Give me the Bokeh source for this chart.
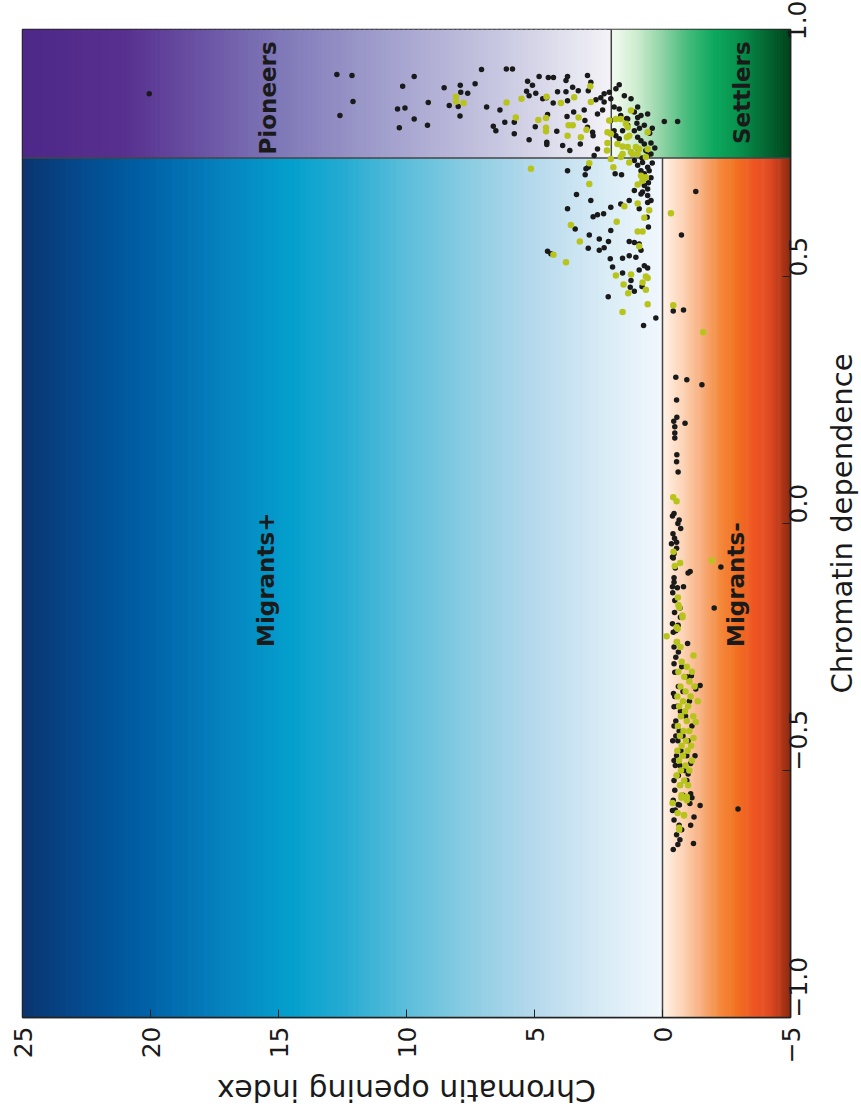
import math
import numpy as np
from bokeh.plotting import figure
from bokeh.layouts import row, column
from bokeh.models import Range1d, FixedTicker, ColumnDataSource
from bokeh.core.properties import value
from bokeh.embed import file_html
from bokeh.resources import INLINE

# ---------------- data (dependence, opening index) ----------------
black_points = [
    (0.905, 9.70), (0.885, 10.15), (0.839, 10.35), (0.841, 10.06), (0.819, 9.70), (0.801, 10.28),
    (0.806, 9.18), (0.852, 9.15), (0.882, 8.53), (0.846, 8.33), (0.844, 7.98), (0.887, 7.90),
    (0.873, 7.88), (0.871, 7.61), (0.825, 7.91), (0.890, 7.32), (0.919, 7.07), (0.843, 6.87),
    (0.804, 6.61), (0.795, 6.51), (0.837, 6.35), (0.812, 6.16), (0.920, 6.10), (0.920, 5.86),
    (0.812, 5.79), (0.789, 5.79), (0.895, 5.27), (0.887, 5.08), (0.875, 5.31), (0.866, 5.21),
    (0.871, 4.95), (0.905, 4.82), (0.860, 4.68), (0.803, 4.97), (0.777, 5.21), (0.862, 4.53),
    (0.828, 4.49), (0.772, 4.52), (0.767, 4.52), (0.903, 4.46), (0.903, 4.26), (0.851, 4.27),
    (0.794, 4.13), (0.874, 4.10), (0.765, 3.90), (0.897, 3.77), (0.905, 3.71), (0.874, 3.77),
    (0.824, 3.73), (0.856, 3.71), (0.755, 3.62), (0.883, 3.51), (0.833, 3.47), (0.876, 3.29),
    (0.768, 3.21), (0.907, 2.93), (0.876, 2.90), (0.893, 2.80), (0.837, 3.06), (0.816, 3.03),
    (0.802, 2.93), (0.792, 2.73), (0.785, 2.71), (0.745, 2.67), (0.758, 2.54), (0.858, 2.60),
    (0.862, 2.41), (0.829, 2.54), (0.837, 2.34), (0.853, 2.28), (0.870, 2.28), (0.873, 2.08),
    (0.860, 2.02), (0.816, 2.02), (0.843, 1.89), (0.880, 1.82), (0.888, 1.69), (0.839, 1.69),
    (0.826, 1.63), (0.866, 1.49), (0.819, 1.36), (0.860, 1.23), (0.833, 1.10), (0.843, 0.97),
    (0.822, 0.97), (0.826, 0.84), (0.806, 0.71), (0.829, 0.58), (0.814, -0.07), (0.814, -0.59),
    (0.795, 1.89), (0.785, 1.82), (0.779, 1.69), (0.795, 1.56), (0.806, 1.36), (0.785, 1.30),
    (0.795, 1.10), (0.782, 0.97), (0.775, 0.84), (0.768, 0.71), (0.755, 0.65), (0.745, 0.58),
    (0.748, 0.45), (0.735, 1.10), (0.725, 0.97), (0.731, 0.78), (0.721, 0.58), (0.714, 0.52),
    (0.714, 0.84), (0.708, 0.71), (0.708, 1.85), (0.706, 1.60), (0.694, 0.78), (0.684, 0.71),
    (0.677, 0.58), (0.671, 0.78), (0.664, 0.58), (0.654, 0.45), (0.674, 1.10), (0.667, 0.84),
    (0.654, 1.30), (0.647, 1.63), (0.640, 2.02), (0.637, 0.91), (0.650, 0.58), (0.718, 2.99),
    (0.721, 2.90), (0.706, 3.02), (0.714, 3.71), (0.666, 3.36), (0.654, 2.80), (0.637, 3.71),
    (0.621, 2.71), (0.625, 2.54), (0.627, 2.30), (0.593, 2.02), (0.596, 3.41), (0.584, 2.86),
    (0.576, 2.47), (0.571, 2.11), (0.557, 2.90), (0.553, 2.47), (0.558, 2.28), (0.571, 1.30),
    (0.569, 1.10), (0.566, 0.91), (0.553, 0.84), (0.542, 1.30), (0.539, 1.04), (0.537, 1.56),
    (0.536, 2.04), (0.519, 1.95), (0.507, 1.56), (0.492, 1.23), (0.513, 0.91), (0.522, 0.71),
    (0.517, 0.58), (0.478, 1.26), (0.470, 1.10), (0.480, 0.80), (0.459, 2.12), (0.430, -0.42),
    (0.432, -0.82), (0.416, 0.26), (0.551, 4.49), (0.546, 4.36), (0.672, -1.30), (0.584, -0.74),
    (0.401, 0.74), (0.870, 20.05), (0.909, 12.72), (0.907, 12.13), (0.826, 12.60), (0.854, 12.09),
    (0.800, 0.40), (0.790, 0.50), (0.770, 0.45), (0.760, 0.30), (0.810, 1.00), (0.820, 1.40),
    (0.800, 0.90), (0.760, 1.00), (0.740, 0.80), (0.730, 0.40), (0.700, 0.45), (0.690, 0.55),
    (0.620, 0.60), (0.600, 0.55),
    # band near zero opening
    (0.296, -0.52), (0.291, -0.95), (0.281, -1.54), (0.250, -0.55), (0.215, -0.56), (0.207, -0.44),
    (0.203, -0.88), (0.196, -0.48), (0.183, -0.48), (0.173, -0.48), (0.139, -0.56), (0.125, -0.55),
    (0.104, -0.61), (0.015, -0.39), (0.007, -0.65), (-0.010, -0.71), (-0.021, -0.41), (-0.038, -0.55),
    (-0.041, -0.35), (-0.061, -0.45), (-0.068, -0.39), (-0.097, -1.08), (-0.100, -1.00), (-0.119, -0.45),
    (-0.128, -0.39), (-0.128, -0.82), (-0.156, -0.48), (-0.171, -0.68), (-0.203, -0.39), (-0.206, -0.61),
    (-0.217, -0.52), (-0.243, -0.98), (-0.250, -0.45), (-0.271, -0.52), (-0.284, -0.45), (-0.308, -1.13),
    (-0.301, -0.48), (-0.328, -1.47), (-0.335, -1.30), (-0.344, -0.43), (-0.371, -0.45), (-0.410, -0.45),
    (-0.430, -0.52), (-0.440, -0.40), (-0.470, -1.27), (-0.486, -1.10), (-0.480, -0.45), (-0.490, -0.50),
    (-0.510, -0.55), (-0.520, -0.45), (-0.507, -1.00), (-0.547, -1.10), (-0.555, -1.15), (-0.569, -0.61),
    (-0.567, -1.07), (-0.571, -1.47), (-0.578, -2.95), (-0.581, -0.39), (-0.594, -1.23), (-0.611, -0.65),
    (-0.611, -1.10), (-0.640, -0.68), (-0.648, -1.21), (-0.088, -2.28), (-0.171, -2.02),
    (-0.29, -0.75), (-0.30, -0.58), (-0.31, -0.95), (-0.33, -0.62), (-0.34, -0.80), (-0.35, -0.48),
    (-0.36, -1.05), (-0.37, -0.58), (-0.38, -0.70), (-0.39, -0.90), (-0.40, -0.52), (-0.41, -1.15),
    (-0.42, -0.65), (-0.43, -0.80), (-0.44, -0.60), (-0.44, -1.00), (-0.46, -0.72), (-0.47, -0.55),
    (-0.47, -0.95), (-0.49, -0.68), (-0.50, -0.85), (-0.51, -0.62), (-0.52, -0.95), (-0.53, -0.70),
    (-0.54, -0.48), (-0.55, -0.80), (-0.56, -0.42), (-0.57, -0.66), (-0.58, -0.50), (-0.60, -0.45),
    (-0.62, -0.75), (-0.63, -0.55), (-0.65, -0.60), (-0.66, -0.42), (-0.26, -0.62), (-0.24, -0.58),
    (-0.22, -0.42), (-0.19, -0.70), (-0.18, -0.47), (-0.14, -0.40), (-0.13, -0.58), (-0.11, -0.45),
    (-0.09, -0.50), (-0.07, -0.42), (-0.05, -0.55), (-0.03, -0.47), (0.00, -0.60), (0.02, -0.45),
]

olive_points = [
    (0.885, 2.82), (0.853, 2.80), (0.863, 3.45), (0.851, 3.97), (0.864, 4.53), (0.860, 5.51),
    (0.852, 6.09), (0.864, 8.07), (0.854, 8.06), (0.851, 7.77), (0.822, 5.73), (0.817, 4.85),
    (0.821, 4.55), (0.801, 4.55), (0.794, 4.55), (0.806, 3.67), (0.806, 3.51), (0.822, 3.28),
    (0.797, 2.97), (0.782, 3.19), (0.785, 3.71), (0.816, 2.08), (0.819, 1.82), (0.819, 1.63),
    (0.809, 1.43), (0.836, 1.23), (0.802, 1.36), (0.785, 1.30), (0.782, 1.39), (0.792, 2.15),
    (0.789, 2.02), (0.770, 2.15), (0.768, 1.76), (0.763, 1.56), (0.762, 1.36), (0.752, 1.23),
    (0.762, 1.04), (0.758, 0.91), (0.758, 0.58), (0.742, 0.65), (0.792, 0.58), (0.748, 0.97),
    (0.731, 1.30), (0.742, 1.63), (0.738, 2.02), (0.721, 1.92), (0.755, 2.17), (0.748, 1.56),
    (0.748, 1.17), (0.704, 0.84), (0.701, 0.65), (0.694, 0.78), (0.686, 0.97), (0.718, 5.14),
    (0.729, 2.86), (0.687, 2.86), (0.642, 1.49), (0.648, 0.97), (0.634, 0.52), (0.619, 0.71),
    (0.611, 1.79), (0.604, 3.58), (0.571, 3.23), (0.544, 4.26), (0.529, 3.77), (0.561, 0.91),
    (0.591, 0.97), (0.591, 0.78), (0.502, 1.82), (0.504, 1.23), (0.484, 1.52), (0.466, 1.34),
    (0.500, 0.65), (0.497, 0.58), (0.488, 0.78), (0.473, 0.65), (0.444, 0.58), (0.428, 1.56),
    (0.442, -0.42), (0.628, -0.33), (0.387, -1.59),
    # band near zero opening
    (0.053, -0.42), (0.045, -0.55), (-0.057, -0.43), (-0.080, -0.69), (-0.086, -0.48), (-0.075, -1.93),
    (-0.150, -0.60), (-0.165, -0.62), (-0.186, -0.78), (-0.228, -0.16), (-0.213, -0.59), (-0.240, -0.56),
    (-0.267, -1.21), (-0.402, -1.30), (-0.434, -1.21), (-0.566, -0.39), (-0.555, -0.74), (-0.553, -0.95),
    (-0.586, -0.59), (-0.591, -0.84), (-0.616, -0.65),
    (-0.17, -0.65), (-0.19, -0.78), (-0.21, -0.55), (-0.24, -0.56), (-0.25, -0.70), (-0.28, -0.75),
    (-0.29, -0.95), (-0.30, -0.62), (-0.31, -0.85), (-0.32, -1.05), (-0.33, -0.70), (-0.34, -0.90),
    (-0.35, -0.58), (-0.35, -1.10), (-0.36, -0.80), (-0.37, -1.00), (-0.37, -0.65), (-0.38, -0.88),
    (-0.39, -1.20), (-0.39, -0.72), (-0.40, -0.95), (-0.41, -0.60), (-0.42, -0.82), (-0.42, -1.05),
    (-0.43, -0.68), (-0.44, -0.92), (-0.45, -0.75), (-0.45, -1.12), (-0.46, -0.58), (-0.46, -0.98),
    (-0.47, -0.80), (-0.48, -1.15), (-0.48, -0.65), (-0.49, -0.90), (-0.50, -0.72), (-0.50, -1.05),
    (-0.51, -0.55), (-0.52, -0.85), (-0.53, -0.68), (-0.53, -1.00), (-0.55, -0.74), (-0.56, -0.95),
    (-0.59, -0.84), (-0.62, -0.65), (-0.33, -1.25), (-0.36, -1.38), (-0.30, -1.15),
]

region_names = ["Migrants+", "Migrants-", "Pioneers", "Settlers"]
region_dependence = [-0.25, -0.25, 0.976, 0.976]
region_opening = [15.5, -2.86, 15.4, -3.1]
region_align = ["left", "left", "right", "right"]

opening_ticks = [25, 20, 15, 10, 5, 0, -5]
dependence_ticks = [-1.0, -0.5, 0.0, 0.5, 1.0]
dependence_tick_labels = ["\u22121.0", "\u22120.5", "0.0", "0.5", "1.0"]
opening_tick_labels = ["25", "20", "15", "10", "5", "0", "\u22125"]

x_title = "Chromatin dependence"
y_title = "Chromatin opening index"

DEP_SPLIT = 0.74
OPEN_SPLIT = 2.0

# gradient colour stops (opening index, colour)
blue_stops = [(0, "#f2f8fc"), (2.5, "#d6eaf5"), (5, "#b6d9ec"), (7.5, "#8ccde3"), (10, "#5cbedb"),
              (12.5, "#24abd3"), (14.5, "#04a0cd"), (17, "#0684c0"), (20, "#0062a8"),
              (22.5, "#044c90"), (25, "#0a3470")]
orange_stops = [(-5, "#8c2a12"), (-4.6, "#b83818"), (-4.2, "#df4a22"), (-3.6, "#ee5523"),
                (-2.9, "#f27020"), (-2.2, "#f48c40"), (-1.5, "#f8b080"), (-0.8, "#fcd3b5"), (0, "#fff3ea")]
purple_stops = [(2, "#f4f3f8"), (6, "#cbcbe3"), (11, "#a09ecc"), (15, "#7f78b8"), (18, "#6a53a4"),
                (21, "#58308f"), (25, "#4d2889")]
green_stops = [(-5, "#00441b"), (-4, "#046a34"), (-3, "#08914c"), (-2, "#0ea95f"), (-1, "#45bb7b"),
               (0, "#8fd3a5"), (1, "#cdeccf"), (2, "#f4fbf2")]

FRAME_W, FRAME_H = 768, 988
LEFT, TOP, BOTTOM, RIGHT = 22, 29, 46, 36


def _rgb(h):
    h = h.lstrip("#")
    return [int(h[i:i + 2], 16) for i in (0, 2, 4)]


def gradient(fig, lo, hi, dep_lo, dep_hi, stops, n=120):
    edges = np.linspace(lo, hi, n + 1)
    step = edges[1] - edges[0]
    mids = (edges[:-1] + edges[1:]) / 2
    pos = [s[0] for s in stops]
    cols = np.array([_rgb(s[1]) for s in stops], dtype=float)
    chans = [np.interp(mids, pos, cols[:, k]) for k in range(3)]
    colors = ["#%02x%02x%02x" % (int(round(r)), int(round(g)), int(round(b)))
              for r, g, b in zip(*chans)]
    rights = np.minimum(edges[1:] + step * 0.6, hi)
    fig.quad(left=edges[:-1], right=rights, bottom=dep_lo, top=dep_hi,
             fill_color=colors, line_color=None)


p = figure(frame_width=FRAME_W, frame_height=FRAME_H,
           x_range=Range1d(25, -5), y_range=Range1d(-1, 1),
           x_axis_location="below", y_axis_location="right",
           output_backend="svg", toolbar_location=None,
           min_border_left=LEFT, min_border_top=TOP, min_border_right=RIGHT, min_border_bottom=BOTTOM)
p.grid.visible = False
p.background_fill_color = "white"
p.border_fill_color = "white"
p.outline_line_color = "#222222"
p.outline_line_width = 1.5

gradient(p, 0, 25, -1, DEP_SPLIT, blue_stops)
gradient(p, -5, 0, -1, DEP_SPLIT, orange_stops)
gradient(p, OPEN_SPLIT, 25, DEP_SPLIT, 1, purple_stops)
gradient(p, -5, OPEN_SPLIT, DEP_SPLIT, 1, green_stops)

# region boundaries
p.segment(x0=[25, 0, OPEN_SPLIT], y0=[DEP_SPLIT, -1, DEP_SPLIT],
          x1=[-5, 0, OPEN_SPLIT], y1=[DEP_SPLIT, DEP_SPLIT, 1],
          line_color="#444444", line_width=1.5)

bsrc = ColumnDataSource(dict(dep=[q[0] for q in black_points], opn=[q[1] for q in black_points]))
osrc = ColumnDataSource(dict(dep=[q[0] for q in olive_points], opn=[q[1] for q in olive_points]))
p.scatter(x="opn", y="dep", source=bsrc, size=5.5, fill_color="#1a1a1a", line_color=None)
p.scatter(x="opn", y="dep", source=osrc, size=6.5, fill_color="#b8c41c", line_color=None)

tsrc = ColumnDataSource(dict(x=region_opening, y=region_dependence, t=region_names, a=region_align))
p.text(x="x", y="y", text="t", source=tsrc, angle=math.pi / 2, text_align="a",
       text_baseline="middle", text_font=value("DejaVu Sans"), text_font_style="bold",
       text_font_size="23px", text_color="#1a1a1a")

xa = p.below[0]
ya = p.right[0]
xa.ticker = FixedTicker(ticks=opening_ticks)
xa.major_label_overrides = {float(t): l for t, l in zip(opening_ticks, opening_tick_labels)}
ya.ticker = FixedTicker(ticks=dependence_ticks)
ya.major_label_overrides = {float(t): l for t, l in zip(dependence_ticks, dependence_tick_labels)}

for ax in (xa, ya):
    ax.major_label_orientation = math.pi / 2
    ax.major_tick_in = 8
    ax.major_tick_out = 0
    ax.major_tick_line_color = "#222222"
    ax.minor_tick_line_color = None
    ax.axis_line_color = "#222222"
    ax.axis_line_width = 1.5
    ax.major_label_text_font = "DejaVu Sans"
    ax.major_label_text_font_size = "25px"
    ax.major_label_text_color = "#1a1a1a"

xa.major_label_standoff = 9
ya.major_label_standoff = 7


def title_fig(**kw):
    f = figure(output_backend="svg", toolbar_location=None,
               x_axis_location=None, y_axis_location=None, **kw)
    f.grid.visible = False
    f.outline_line_color = None
    f.background_fill_color = "white"
    f.border_fill_color = "white"
    return f


# bottom title strip (shares the opening-index scale, so the title is centred on the frame)
bottom = title_fig(frame_width=FRAME_W, frame_height=48, x_range=p.x_range, y_range=Range1d(0, 1),
                   min_border_left=LEFT, min_border_right=RIGHT, min_border_top=0, min_border_bottom=0)
bottom.text(x=[10], y=[0.5], text=[y_title], angle=math.pi, text_align="center",
            text_baseline="middle", text_font=value("DejaVu Sans"), text_font_size="30px",
            text_color="#1a1a1a")

# right title strip (shares the dependence scale)
right = title_fig(frame_width=34, frame_height=FRAME_H, x_range=Range1d(0, 1), y_range=p.y_range,
                  min_border_left=0, min_border_right=0, min_border_top=TOP, min_border_bottom=BOTTOM)
right.text(x=[0.47], y=[0], text=[x_title], angle=math.pi / 2, text_align="center",
           text_baseline="middle", text_font=value("DejaVu Sans"), text_font_size="29px",
           text_color="#1a1a1a")

layout = row(column(p, bottom), right)

open("out.html", "w").write(file_html(layout, INLINE))
